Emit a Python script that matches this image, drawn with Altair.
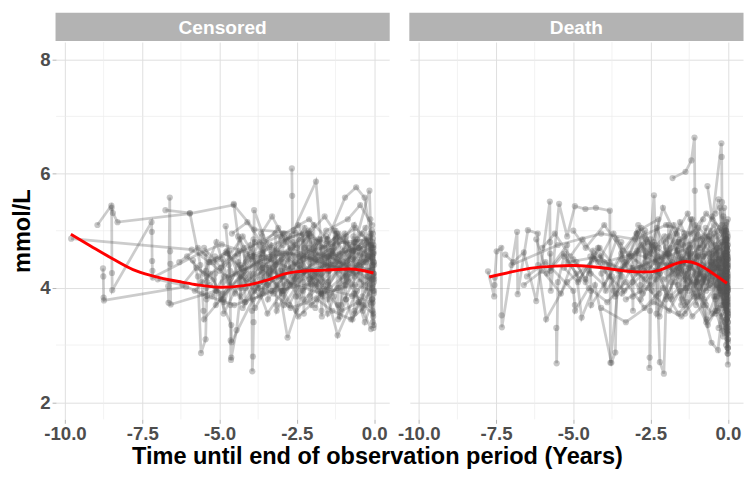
import altair as alt
import pandas as pd

# ---------------- Censored panel: one list of (time, value) per patient ----------------
c01 = [(-9.8,4.86),(-5.9,4.67),(-5.32,4.45),(-4.71,4.18),(-3.55,4.52),(-2.31,4.27),(-1.22,4.46),(-0.08,4.31)]
c02 = [(-8.95,5.10),(-8.5,5.44),(-8.45,5.31),(-8.3,5.15),(-5.96,5.30),(-4.54,5.45),(-3.88,5.02),(-2.52,4.96),(-1.41,4.77),(-0.04,4.86)]
c03 = [(-8.77,4.34),(-8.76,4.20),(-8.75,3.83),(-8.74,3.78),(-6.08,4.02),(-5.41,3.86),(-4.52,3.70),(-3.21,3.95),(-2.03,4.07),(-0.71,3.86),(-0.05,3.74)]
c04 = [(-8.49,5.40),(-8.48,4.26),(-8.47,3.96),(-7.2,5.15),(-7.19,4.98),(-7.18,4.47),(-7.17,4.30),(-7.16,4.18),(-5.62,4.61),(-4.93,4.76),(-3.71,4.55),(-2.24,4.62),(-0.92,4.81),(-0.02,4.63)]
c05 = [(-6.66,4.03),(-6.65,3.74),(-6.61,5.58),(-6.60,4.64),(-6.59,4.42),(-6.58,3.71),(-5.1,3.95),(-4.62,3.35),(-4.61,3.05),(-3.92,3.80),(-2.81,4.10),(-1.71,3.90),(-0.62,4.05),(-0.03,3.95)]
c06 = [(-6.75,5.36),(-5.96,5.31),(-5.62,4.40),(-5.58,4.10),(-5.55,3.90),(-5.52,3.60),(-5.50,3.45),(-4.2,4.30),(-3.15,4.65),(-1.9,4.50),(-0.5,4.70),(-0.06,4.55)]
c07 = [(-5.86,4.48),(-5.70,4.20),(-5.60,2.86),(-5.45,3.10),(-5.40,4.10),(-5.35,4.45),(-4.80,4.62),(-4.05,4.15),(-3.40,4.35),(-2.60,4.05),(-1.55,4.40),(-0.45,4.25),(-0.01,4.10)]
c08 = [(-4.80,5.08),(-4.66,4.30),(-4.65,3.70),(-4.64,3.08),(-4.63,2.74),(-4.62,2.78),(-4.45,3.26),(-4.30,4.00),(-3.60,4.40),(-2.70,4.70),(-1.80,4.45),(-0.80,4.65),(-0.04,4.50)]
c09 = [(-4.54,5.47),(-4.40,4.90),(-3.98,4.50),(-3.95,3.60),(-3.94,2.54),(-3.92,2.80),(-3.90,3.40),(-3.88,5.36),(-3.10,4.20),(-2.30,4.55),(-1.20,4.35),(-0.30,4.60),(-0.02,4.45)]
c10 = [(-2.66,6.09),(-2.65,5.61),(-2.64,4.80),(-2.62,4.20),(-2.60,5.01),(-1.88,5.86),(-1.70,4.70),(-1.20,4.90),(-0.60,4.65),(-0.05,4.80)]
c11 = [(-5.3,4.05),(-4.9,3.90),(-4.3,4.20),(-3.7,3.85),(-3.2,4.40),(-2.8,3.13),(-2.3,3.95),(-1.7,4.25),(-1.18,3.17),(-0.6,3.90),(-0.1,3.28)]
c12 = [(-3.5,4.80),(-2.9,4.95),(-2.1,5.20),(-1.5,4.85),(-0.94,5.58),(-0.58,5.76),(-0.31,5.58),(-0.12,4.95),(-0.04,4.70)]
c13 = [(-3.3,4.60),(-2.9,4.85),(-2.31,4.95),(-2.30,4.50),(-2.29,4.10),(-2.28,3.80),(-2.27,3.55),(-2.26,4.30),(-2.25,4.70),(-1.6,4.55),(-0.9,4.20),(-0.07,4.35)]
c14 = [(-4.1,4.55),(-3.3,4.70),(-2.4,4.35),(-1.73,4.85),(-1.72,4.40),(-1.71,3.90),(-1.70,3.60),(-1.69,3.50),(-1.68,4.10),(-1.67,4.60),(-1.0,4.45),(-0.3,4.05),(-0.01,4.20)]
c15 = [(-2.0,4.30),(-1.5,4.10),(-1.20,4.95),(-1.19,4.50),(-1.18,4.00),(-1.17,3.70),(-1.16,3.45),(-0.67,4.90),(-0.66,4.35),(-0.65,3.90),(-0.64,3.60),(-0.63,3.55),(-0.10,4.15),(-0.06,3.80),(-0.03,3.50)]
c16 = [(-5.0,4.30),(-4.4,4.60),(-3.19,4.95),(-3.18,4.45),(-3.17,4.05),(-3.16,3.70),(-3.15,3.60),(-2.5,4.25),(-1.4,4.60),(-0.55,4.40),(-0.04,4.95)]
c17 = [(-1.0,4.20),(-0.6,4.80),(-0.15,5.70),(-0.12,5.20),(-0.10,4.70),(-0.08,4.30),(-0.07,4.00),(-0.06,3.80),(-0.05,3.60),(-0.04,3.40),(-0.02,3.30),(-0.01,3.90),(0.0,4.40)]
c18 = [(-6.05,4.55),(-5.5,4.25),(-5.1,4.80),(-4.7,4.10),(-4.2,3.75),(-3.6,4.35),(-3.0,3.95),(-2.4,4.55),(-1.9,4.05),(-1.35,4.65),(-0.8,4.25),(-0.2,4.50)]
c19 = [(-5.8,3.95),(-5.3,4.25),(-4.85,3.75),(-4.4,4.45),(-3.85,3.65),(-3.3,4.15),(-2.75,3.70),(-2.2,4.30),(-1.65,3.85),(-1.1,4.40),(-0.55,3.95),(-0.02,4.25)]
c20 = [(-4.6,4.95),(-4.1,5.15),(-3.6,4.75),(-3.1,5.05),(-2.6,4.55),(-2.1,4.95),(-1.6,5.25),(-1.1,4.85),(-0.6,5.05),(-0.1,4.75)]
c21 = [(-7.0,4.15),(-6.2,4.05),(-5.75,4.35),(-5.2,4.15),(-4.95,3.80),(-4.5,4.25),(-3.95,4.55),(-3.45,4.05),(-2.95,4.25),(-2.45,3.85),(-1.95,4.20),(-1.4,3.90),(-0.9,4.15),(-0.35,3.70),(-0.05,4.05)]
c22 = [(-3.65,4.95),(-3.3,5.25),(-2.85,4.80),(-2.45,5.10),(-2.05,4.50),(-1.55,5.00),(-0.85,5.20),(-0.45,5.45),(-0.06,5.10)]
c23 = [(-5.05,4.50),(-4.75,4.65),(-4.35,4.20),(-3.8,4.05),(-3.25,3.90),(-2.7,3.65),(-2.15,3.75),(-1.6,3.95),(-1.05,3.60),(-0.5,3.75),(-0.03,3.55)]
c24 = [(-2.9,4.35),(-2.55,4.75),(-2.25,5.05),(-1.95,4.70),(-1.5,4.35),(-1.25,4.85),(-0.85,4.55),(-0.4,4.95),(-0.02,4.70)]
c25 = [(-4.25,3.65),(-3.75,4.00),(-3.45,3.55),(-2.95,3.95),(-2.45,3.50),(-1.85,3.80),(-1.35,3.60),(-0.75,3.45),(-0.25,3.70)]
c26 = [(-5.5,4.70),(-4.95,4.35),(-4.25,4.90),(-3.55,4.25),(-2.85,4.60),(-2.1,4.15),(-1.45,4.55),(-0.7,4.30),(-0.05,4.55)]
c27 = [(-5.45,4.60),(-5.44,4.30),(-5.43,4.00),(-5.42,3.80),(-5.41,4.20),(-4.2,4.70),(-4.19,4.35),(-4.18,4.00),(-4.17,3.75),(-3.0,4.50),(-2.99,4.20),(-2.98,3.90),(-1.45,4.65),(-1.44,4.30),(-1.43,4.00),(-0.2,4.55),(-0.19,4.20),(-0.18,3.85)]
c28 = [(-4.9,4.50),(-4.89,4.10),(-4.88,3.80),(-4.87,3.55),(-3.7,4.80),(-3.69,4.45),(-3.68,4.15),(-2.45,4.85),(-2.44,4.55),(-2.43,4.20),(-2.42,3.95),(-0.85,4.75),(-0.84,4.40),(-0.83,4.10),(-0.02,4.60),(-0.01,4.25),(0.0,3.95)]
c29 = [(-3.45,4.40),(-3.44,4.05),(-3.43,3.80),(-2.05,4.90),(-2.04,4.60),(-2.03,4.30),(-2.02,4.05),(-2.01,3.70),(-0.4,4.80),(-0.39,4.50),(-0.38,4.15),(-0.37,3.85),(-0.36,3.60)]
c30 = [(-6.3,4.45),(-5.7,4.70),(-5.2,4.45),(-4.75,4.60),(-4.3,4.35),(-3.85,4.80),(-3.4,4.50),(-2.95,4.95),(-2.5,4.70),(-2.05,4.95),(-1.6,4.70),(-1.15,4.95),(-0.7,4.65),(-0.25,4.85),(-0.03,4.60)]
c31 = [(-5.25,3.85),(-4.85,4.20),(-4.5,3.90),(-4.05,4.25),(-3.65,3.95),(-3.25,4.30),(-2.85,4.00),(-2.35,4.35),(-1.85,4.10),(-1.4,4.40),(-0.95,4.05),(-0.5,4.45),(-0.05,4.15)]
c32 = [(-2.35,4.40),(-2.3,4.85),(-2.2,4.55),(-2.15,4.95),(-1.95,4.60),(-1.8,4.85),(-1.62,4.45),(-1.55,4.90),(-1.35,4.60),(-1.25,5.00),(-1.05,4.55),(-0.9,4.90),(-0.7,4.50),(-0.55,4.85),(-0.35,4.45),(-0.2,4.80),(-0.05,4.40)]
c33 = [(-4.5,4.55),(-4.35,4.85),(-4.15,4.45),(-4.0,4.75),(-3.8,4.35),(-3.6,4.65),(-3.4,4.25),(-3.2,4.55),(-3.0,4.20),(-2.8,4.50),(-2.6,4.15),(-2.4,4.45)]
c34 = [(-1.9,3.65),(-1.7,3.95),(-1.5,3.55),(-1.3,3.85),(-1.1,3.50),(-0.9,3.80),(-0.7,3.45),(-0.5,3.75),(-0.3,3.40),(-0.1,3.70),(-0.01,3.35)]
c35 = [(-3.62,4.90),(-3.61,4.60),(-3.60,4.35),(-3.59,4.10),(-3.58,3.90),(-3.57,4.70),(-2.12,5.00),(-2.11,4.70),(-2.10,4.45),(-2.09,4.15),(-2.08,3.85),(-0.28,5.05),(-0.27,4.75),(-0.26,4.45),(-0.25,4.20),(-0.24,3.95)]
c36 = [(-2.95,4.75),(-2.94,4.45),(-2.93,4.20),(-2.92,3.95),(-2.91,3.70),(-1.52,4.85),(-1.51,4.55),(-1.50,4.30),(-1.49,4.05),(-1.48,3.80),(-0.15,4.90),(-0.14,4.60),(-0.13,4.30),(-0.12,4.05),(-0.11,3.75)]
c37 = [(-4.35,4.65),(-4.34,4.40),(-4.33,4.10),(-4.32,3.85),(-2.75,4.90),(-2.74,4.60),(-2.73,4.30),(-2.72,4.05),(-0.95,4.95),(-0.94,4.65),(-0.93,4.35),(-0.92,4.05),(-0.91,3.80)]
c38 = [(-5.15,4.55),(-5.14,4.25),(-5.13,3.95),(-5.12,3.70),(-3.35,4.75),(-3.34,4.50),(-3.33,4.25),(-3.32,3.95),(-1.85,4.80),(-1.84,4.55),(-1.83,4.25),(-1.82,3.95),(-0.5,4.70),(-0.49,4.40),(-0.48,4.10)]
c39 = [(-2.55,4.45),(-2.54,4.15),(-2.53,3.85),(-2.52,3.60),(-1.1,4.60),(-1.09,4.30),(-1.08,4.00),(-1.07,3.70),(-0.02,4.75),(-0.01,4.45),(0.0,4.15)]
c40 = [(-3.9,4.85),(-3.89,4.55),(-3.88,4.25),(-3.87,3.95),(-1.95,5.10),(-1.94,4.80),(-1.93,4.50),(-1.92,4.20),(-0.65,5.10),(-0.64,4.80),(-0.63,4.50),(-0.62,4.20)]
c41 = [(-4.7,4.40),(-4.69,4.65),(-4.68,4.20),(-3.05,4.60),(-3.04,4.90),(-3.03,4.30),(-1.3,4.70),(-1.29,5.00),(-1.28,4.40),(-0.08,4.70),(-0.07,5.00),(-0.06,4.40)]

CENSORED = [c01, c02, c03, c04, c05, c06, c07, c08, c09, c10, c11, c12, c13, c14,
            c15, c16, c17, c18, c19, c20, c21, c22, c23, c24, c25, c26, c27, c28,
            c29, c30, c31, c32, c33, c34, c35, c36, c37, c38, c39, c40, c41]

# ---------------- Death panel ----------------
d01 = [(-7.76,4.29),(-7.56,3.85),(-7.55,4.05),(-7.54,4.18),(-7.48,4.64),(-7.33,4.70),(-7.32,3.52),(-7.31,3.31),(-6.82,4.98),(-6.80,3.89),(-6.47,5.01),(-6.15,4.95),(-6.14,4.40),(-5.88,3.45),(-5.2,4.10),(-4.3,4.50),(-3.2,4.30),(-1.9,4.60),(-0.8,4.20),(-0.05,3.90),(-0.02,4.50),(0.0,3.60)]
d02 = [(-7.2,4.58),(-6.95,4.45),(-6.6,4.62),(-6.2,3.77),(-5.76,5.51),(-5.75,4.80),(-5.74,4.30),(-5.73,3.95),(-5.46,5.47),(-5.2,4.90),(-4.95,5.43),(-4.61,5.38),(-4.27,5.40),(-3.82,5.35),(-3.81,4.40),(-3.80,2.69),(-3.5,4.30),(-2.6,4.80),(-1.5,4.40),(-0.6,4.90),(-0.04,4.30),(0.0,3.80)]
d03 = [(-5.55,3.30),(-5.54,2.68),(-5.50,4.10),(-5.3,4.55),(-4.9,4.25),(-4.73,3.48),(-4.3,4.05),(-3.77,2.69),(-3.64,2.87),(-3.6,3.90),(-3.1,4.35),(-2.5,4.05),(-1.8,4.45),(-1.0,3.85),(-0.3,4.15),(-0.03,3.45),(0.0,3.05)]
d04 = [(-6.0,4.70),(-5.6,4.95),(-5.1,4.55),(-4.7,4.85),(-4.2,4.45),(-3.7,4.95),(-3.2,4.55),(-2.8,5.05),(-2.4,4.65),(-1.9,4.90),(-1.5,4.50),(-1.0,4.95),(-0.5,4.55),(-0.05,4.85),(-0.02,4.40),(0.0,4.20)]
d05 = [(-2.54,2.60),(-2.53,2.78),(-2.52,3.60),(-2.51,4.20),(-2.50,4.85),(-2.39,5.62),(-2.2,2.70),(-2.07,2.50),(-2.0,3.80),(-1.6,4.35),(-1.1,4.05),(-0.6,4.55),(-0.05,4.15),(0.0,3.55)]
d06 = [(-1.79,5.92),(-1.37,6.03),(-1.18,6.23),(-1.08,6.63),(-1.07,5.70),(-1.06,5.10),(-1.05,4.60),(-1.04,4.10),(-1.03,3.70),(-0.6,4.40),(-0.2,4.80),(-0.03,4.00),(0.0,3.40)]
d07 = [(-0.66,5.78),(-0.5,5.20),(-0.21,6.53),(-0.20,6.29),(-0.19,5.50),(-0.15,4.90),(-0.10,4.40),(-0.06,3.90),(-0.03,3.30),(-0.01,2.95),(0.0,2.66)]
d08 = [(-3.1,4.55),(-3.09,4.10),(-3.08,3.85),(-3.07,3.60),(-3.06,4.35),(-2.7,4.15),(-2.3,4.55),(-1.7,4.25),(-1.3,4.65),(-0.53,3.04),(-0.32,2.91),(-0.2,3.50),(-0.04,3.30),(0.0,2.85)]
d09 = [(-4.5,4.30),(-4.0,4.05),(-3.45,4.60),(-2.95,4.25),(-2.45,4.75),(-1.95,4.35),(-1.42,4.95),(-1.41,4.50),(-1.40,4.00),(-1.39,3.70),(-1.38,3.55),(-0.9,4.25),(-0.45,4.60),(-0.05,4.35),(-0.01,3.95)]
d10 = [(-6.5,4.20),(-5.9,4.45),(-5.0,3.95),(-4.95,3.70),(-4.94,3.60),(-4.5,4.00),(-3.9,3.75),(-3.3,4.10),(-2.7,3.65),(-2.1,4.00),(-1.6,3.55),(-1.1,3.85),(-0.7,3.40),(-0.3,3.65),(-0.04,3.20),(0.0,2.95)]
d11 = [(-5.0,5.00),(-4.6,4.70),(-4.0,5.10),(-3.4,4.65),(-2.9,5.00),(-2.25,5.20),(-2.24,4.70),(-2.23,4.30),(-2.22,3.90),(-2.21,3.50),(-1.6,4.80),(-0.95,5.05),(-0.4,4.75),(-0.06,5.00),(-0.02,4.60)]
d12 = [(-7.0,4.40),(-5.5,4.75),(-4.1,4.95),(-3.0,4.85),(-2.0,5.10),(-1.2,4.95),(-0.7,5.30),(-0.25,5.05),(-0.03,4.70),(0.0,4.35)]
d13 = [(-3.75,4.20),(-3.65,3.85),(-3.35,4.45),(-2.85,3.95),(-2.35,4.30),(-1.85,3.85),(-1.25,4.20),(-0.75,3.75),(-0.35,4.05),(-0.08,3.65),(-0.02,3.35),(0.0,3.10)]
d14 = [(-0.9,4.70),(-0.55,5.00),(-0.35,4.60),(-0.30,4.20),(-0.25,3.90),(-0.20,3.70),(-0.15,4.10),(-0.10,4.50),(-0.07,4.80),(-0.04,4.30),(-0.02,3.90),(0.0,4.10)]
d15 = [(-1.5,4.30),(-1.2,4.60),(-0.8,4.15),(-0.55,4.45),(-0.45,3.85),(-0.35,3.60),(-0.25,4.00),(-0.12,3.75),(-0.06,3.45),(-0.03,3.80),(-0.01,3.25),(0.0,3.55)]
d16 = [(-2.0,4.80),(-1.75,5.10),(-1.45,4.75),(-1.15,5.20),(-0.85,4.85),(-0.5,5.25),(-0.2,4.95),(-0.05,5.15),(-0.02,4.65),(0.0,4.90)]
d17 = [(-4.0,4.45),(-3.0,4.60),(-2.0,4.40),(-1.0,4.55),(-0.5,4.25),(-0.08,4.60),(-0.05,4.15),(-0.03,3.85),(-0.01,4.35),(0.0,4.00)]
d18 = [(-5.3,4.35),(-4.85,4.10),(-4.35,4.55),(-3.85,4.20),(-3.35,3.95),(-2.65,4.45),(-2.05,4.15),(-1.45,4.45),(-0.95,4.10),(-0.3,4.35),(-0.03,4.05)]
d19 = [(-2.9,5.10),(-2.5,4.60),(-2.1,5.40),(-1.7,4.95),(-1.3,5.30),(-0.9,4.75),(-0.45,5.10),(-0.1,4.50),(-0.02,4.80)]
d20 = [(-3.3,3.80),(-2.6,4.00),(-1.9,3.60),(-1.55,3.95),(-1.15,3.50),(-0.8,3.70),(-0.65,3.35),(-0.4,3.60),(-0.18,3.25),(-0.05,3.45),(0.0,3.20)]
d21 = [(-6.2,4.85),(-5.85,4.25),(-5.3,4.60),(-4.8,4.15),(-4.15,4.70),(-3.55,4.30),(-2.8,4.75),(-2.2,4.40),(-1.65,4.80),(-1.1,4.45),(-0.6,4.85),(-0.15,4.40),(-0.03,4.70)]
d22 = [(-4.1,3.65),(-3.3,3.40),(-2.4,3.75),(-1.5,3.50),(-0.95,3.85),(-0.5,3.55),(-0.25,3.95),(-0.09,3.60),(-0.03,3.90),(0.0,3.70)]
d23 = [(-1.95,4.55),(-1.6,4.20),(-1.4,4.90),(-1.2,4.35),(-0.95,4.70),(-0.7,4.10),(-0.45,4.45),(-0.28,4.00),(-0.12,4.30),(-0.04,3.95),(0.0,4.25)]
d24 = [(-0.4,5.30),(-0.3,5.55),(-0.2,5.10),(-0.12,5.40),(-0.06,5.00),(-0.02,4.55),(0.0,5.20)]
d25 = [(-0.35,4.90),(-0.3,4.40),(-0.25,4.70),(-0.2,4.20),(-0.16,4.55),(-0.13,4.05),(-0.1,4.40),(-0.08,3.90),(-0.06,4.25),(-0.04,3.75),(-0.03,4.10),(-0.02,3.60),(-0.01,3.95),(0.0,3.50)]
d26 = [(-0.6,4.30),(-0.5,4.65),(-0.42,4.15),(-0.34,4.50),(-0.27,4.00),(-0.2,4.35),(-0.14,3.85),(-0.09,4.20),(-0.05,3.70),(-0.02,4.05),(0.0,3.40)]
d27 = [(-0.25,5.40),(-0.2,5.00),(-0.15,5.25),(-0.1,4.85),(-0.07,5.10),(-0.04,4.70),(-0.02,4.95),(-0.01,4.50),(0.0,4.75)]
d28 = [(-0.3,3.30),(-0.22,3.55),(-0.15,3.15),(-0.1,3.40),(-0.06,3.00),(-0.03,3.25),(-0.01,2.85),(0.0,3.10)]
d29 = [(-3.0,4.45),(-2.8,4.90),(-2.6,4.35),(-2.4,4.80),(-2.2,4.25),(-2.0,4.70),(-1.8,4.20),(-1.6,4.65),(-1.4,4.15),(-1.2,4.60),(-1.0,4.10),(-0.8,4.55),(-0.6,4.05),(-0.4,4.50),(-0.2,4.00),(-0.05,4.45),(0.0,3.95)]
d30 = [(-2.75,3.90),(-2.72,4.30),(-2.70,4.65),(-2.68,5.00),(-1.98,3.85),(-1.96,4.25),(-1.94,4.60),(-1.92,5.10),(-1.27,3.95),(-1.25,4.35),(-1.23,4.75),(-1.21,5.20),(-0.78,3.80),(-0.76,4.20),(-0.74,4.60),(-0.72,5.05)]
d31 = [(-6.6,4.05),(-6.0,4.30),(-5.4,3.90),(-5.0,4.50),(-4.6,4.15),(-4.2,4.70),(-3.95,4.30),(-3.6,4.85),(-3.3,4.40),(-2.95,4.95),(-2.65,4.55),(-2.3,5.05),(-1.95,4.60),(-1.55,5.15),(-1.2,4.70),(-0.8,5.20)]
d32 = [(-1.7,4.10),(-1.5,3.80),(-1.3,4.25),(-1.1,3.90),(-0.9,4.35),(-0.7,3.95),(-0.5,4.40),(-0.35,3.85),(-0.2,4.30),(-0.08,3.80),(-0.02,4.20),(0.0,3.65)]
d33 = [(-0.12,5.00),(-0.1,4.60),(-0.08,4.30),(-0.06,4.00),(-0.05,3.80),(-0.04,3.60),(-0.03,3.45),(-0.02,3.70),(-0.01,4.00),(0.0,4.40)]
d34 = [(-0.18,4.80),(-0.17,4.50),(-0.16,4.20),(-0.15,3.95),(-0.14,3.70),(-0.05,4.90),(-0.045,4.60),(-0.04,4.30),(-0.035,4.00),(-0.03,3.75),(-0.01,4.65),(0.0,4.15)]
d35 = [(-0.45,4.95),(-0.44,4.65),(-0.43,4.35),(-0.42,4.05),(-0.41,3.80),(-0.09,5.05),(-0.085,4.75),(-0.08,4.45),(-0.075,4.15),(-0.07,3.90),(0.0,4.50)]
d36 = [(-1.55,4.85),(-1.54,4.55),(-1.53,4.25),(-1.52,3.95),(-1.51,3.70),(-0.62,4.90),(-0.61,4.60),(-0.60,4.30),(-0.59,4.00),(-0.02,4.75),(-0.015,4.40),(-0.01,4.05),(0.0,3.75)]
d37 = [(-2.35,4.75),(-2.34,4.45),(-2.33,4.15),(-2.32,3.85),(-2.31,3.55),(-0.98,4.85),(-0.97,4.55),(-0.96,4.25),(-0.95,3.95),(-0.25,4.65),(-0.24,4.35),(-0.23,4.05),(-0.04,4.55),(-0.03,4.20),(0.0,3.85)]
d38 = [(-2.85,4.65),(-2.84,4.35),(-2.83,4.05),(-2.82,3.80),(-1.65,4.95),(-1.64,4.65),(-1.63,4.35),(-1.62,4.05),(-0.35,5.00),(-0.34,4.70),(-0.33,4.40),(-0.32,4.10),(-0.06,4.85),(-0.05,4.55),(-0.04,4.25)]
d39 = [(-3.45,4.80),(-3.44,4.50),(-3.43,4.20),(-3.42,3.90),(-1.85,4.70),(-1.84,4.40),(-1.83,4.10),(-1.82,3.80),(-0.12,4.60),(-0.11,4.30),(-0.1,4.00),(-0.09,3.70),(-0.01,3.50),(0.0,3.30)]
d40 = [(-4.45,4.55),(-4.44,4.25),(-4.43,3.95),(-4.42,3.70),(-2.95,4.95),(-2.94,4.65),(-2.93,4.35),(-1.25,4.70),(-1.24,4.40),(-1.23,4.10),(-0.55,4.75),(-0.54,4.45),(-0.53,4.15)]
d41 = [(-5.75,4.60),(-5.74,4.35),(-5.2,4.75),(-5.19,4.45),(-4.1,4.55),(-4.09,4.25),(-3.95,3.95),(-2.65,4.85),(-2.64,4.55),(-2.05,4.90),(-2.04,4.60),(-0.8,4.90),(-0.79,4.55),(-0.02,4.85),(0.0,4.45)]
d42 = [(-0.7,3.70),(-0.69,3.45),(-0.4,3.85),(-0.39,3.55),(-0.2,3.95),(-0.19,3.65),(-0.07,3.85),(-0.06,3.55),(-0.02,3.20),(0.0,2.95)]
d43 = [(-1.35,4.30),(-1.34,4.00),(-1.33,3.75),(-0.85,4.40),(-0.84,4.10),(-0.83,3.85),(-0.3,4.50),(-0.29,4.20),(-0.28,3.95),(-0.03,4.60),(-0.02,4.30),(-0.01,4.00)]
d44 = [(-4.9,4.45),(-4.6,4.10),(-4.35,4.65),(-3.85,4.40),(-3.7,3.95),(-3.2,4.60),(-2.7,4.35),(-2.45,3.95),(-2.15,4.55),(-1.75,4.30),(-1.3,4.60),(-0.9,4.00),(-0.45,4.35),(-0.12,4.10),(0.0,4.55)]

DEATH = [d01, d02, d03, d04, d05, d06, d07, d08, d09, d10, d11, d12, d13, d14, d15,
         d16, d17, d18, d19, d20, d21, d22, d23, d24, d25, d26, d27, d28, d29, d30,
         d31, d32, d33, d34, d35, d36, d37, d38, d39, d40, d41, d42, d43, d44]

# ---------------- smoothed trend ----------------
CENS_SMOOTH_T = [-9.81, -9.16, -8.43, -7.80, -7.17, -6.22, -5.80, -4.96, -4.22, -3.49, -2.86, -2.54, -1.60, -0.76, -0.02]
CENS_SMOOTH_V = [4.94, 4.73, 4.50, 4.32, 4.21, 4.10, 4.06, 4.01, 4.04, 4.13, 4.25, 4.28, 4.31, 4.33, 4.26]
DEATH_SMOOTH_T = [-7.72, -7.00, -6.28, -5.60, -5.03, -4.40, -3.88, -3.40, -2.94, -2.50, -2.20, -1.80, -1.37, -1.00, -0.70, -0.40, -0.03]
DEATH_SMOOTH_V = [4.19, 4.28, 4.35, 4.38, 4.39, 4.37, 4.34, 4.30, 4.28, 4.28, 4.31, 4.40, 4.46, 4.42, 4.33, 4.22, 4.08]

PANEL_NAMES = ["Censored", "Death"]
X_TICKS = [-10, -7.5, -5, -2.5, 0]
X_MINOR = [-8.75, -6.25, -3.75, -1.25]
Y_TICKS = [2, 4, 6, 8]
Y_MINOR = [3, 5, 7]

FONT = "Liberation Sans"
W, H, SH = 340, 385, 29


def patients_df(groups):
    rows = []
    for i, g in enumerate(groups):
        for t, v in g:
            rows.append({"pid": i, "t": t, "v": v})
    return pd.DataFrame(rows)


xs = alt.Scale(domain=[-10.29, 0.49], nice=False, zero=False)
ys = alt.Scale(domain=[1.7, 8.3], nice=False, zero=False)
x_label_expr = "(datum.value < 0 ? '-' : '') + format(abs(datum.value), '.1f')"


def make_panel(groups, st, sv, show_y):
    xaxis = alt.Axis(values=X_TICKS, labelExpr=x_label_expr, title=None)
    if show_y:
        yaxis = alt.Axis(values=Y_TICKS, format="d", title="mmol/L")
    else:
        yaxis = alt.Axis(values=Y_TICKS, labels=False, ticks=False, title=None)

    df = patients_df(groups)
    xminor = alt.Chart(pd.DataFrame({"t": X_MINOR})).mark_rule(
        color="#ececec", strokeWidth=0.7
    ).encode(x=alt.X("t:Q", scale=xs, axis=xaxis))
    yminor = alt.Chart(pd.DataFrame({"v": Y_MINOR})).mark_rule(
        color="#ececec", strokeWidth=0.7
    ).encode(y=alt.Y("v:Q", scale=ys, axis=yaxis))

    base = alt.Chart(df).encode(
        x=alt.X("t:Q", scale=xs, axis=xaxis),
        y=alt.Y("v:Q", scale=ys, axis=yaxis),
    )
    lines = base.mark_line(color="#555555", opacity=0.3, strokeWidth=2.8).encode(detail="pid:N")
    points = base.mark_circle(color="#555555", opacity=0.33, size=40)

    sm = pd.DataFrame({"t": st, "v": sv})
    smooth = alt.Chart(sm).mark_line(color="#ff0000", strokeWidth=3, interpolate="monotone").encode(
        x=alt.X("t:Q", scale=xs, axis=xaxis),
        y=alt.Y("v:Q", scale=ys, axis=yaxis),
    )
    return alt.layer(xminor, yminor, lines, points, smooth).properties(
        width=W, height=H, view=alt.ViewBackground(stroke="#b3b3b3", strokeWidth=1)
    )


def make_strip(name):
    d = pd.DataFrame({"label": [name]})
    rect = alt.Chart(d).mark_rect(color="#b3b3b3").encode(
        x=alt.value(-0.5), x2=alt.value(W + 0.5), y=alt.value(0), y2=alt.value(SH)
    )
    txt = alt.Chart(d).mark_text(
        color="white", font=FONT, fontWeight="bold", fontSize=19.5, baseline="middle", align="center"
    ).encode(text="label:N", x=alt.value(W / 2), y=alt.value(SH / 2 + 1))
    return alt.layer(rect, txt).properties(
        width=W, height=SH, view=alt.ViewBackground(strokeOpacity=0)
    )


left = alt.vconcat(
    make_strip(PANEL_NAMES[0]),
    make_panel(CENSORED, CENS_SMOOTH_T, CENS_SMOOTH_V, True),
    spacing=0,
)
right = alt.vconcat(
    make_strip(PANEL_NAMES[1]),
    make_panel(DEATH, DEATH_SMOOTH_T, DEATH_SMOOTH_V, False),
    spacing=0,
)

chart = alt.hconcat(left, right, spacing=7).properties(
    padding={"left": 3, "top": 0, "right": 0, "bottom": 0},
    title=alt.TitleParams(
        text="Time until end of observation period (Years)",
        orient="bottom", anchor="middle", fontSize=24, fontWeight="bold",
        font=FONT, color="black", offset=2,
    ),
).configure_view(strokeOpacity=0).configure_axis(
    labelFont=FONT, labelFontSize=19, labelFontWeight="bold", labelColor="#4d4d4d",
    labelPadding=2, tickColor="#b3b3b3", tickSize=4, domain=False,
    gridColor="#dedede", gridWidth=1,
    titleFont=FONT, titleFontSize=24, titleFontWeight="bold", titleColor="black",
    titlePadding=5,
)

chart.save("out.html", embed_options={"renderer": "svg", "actions": False})
